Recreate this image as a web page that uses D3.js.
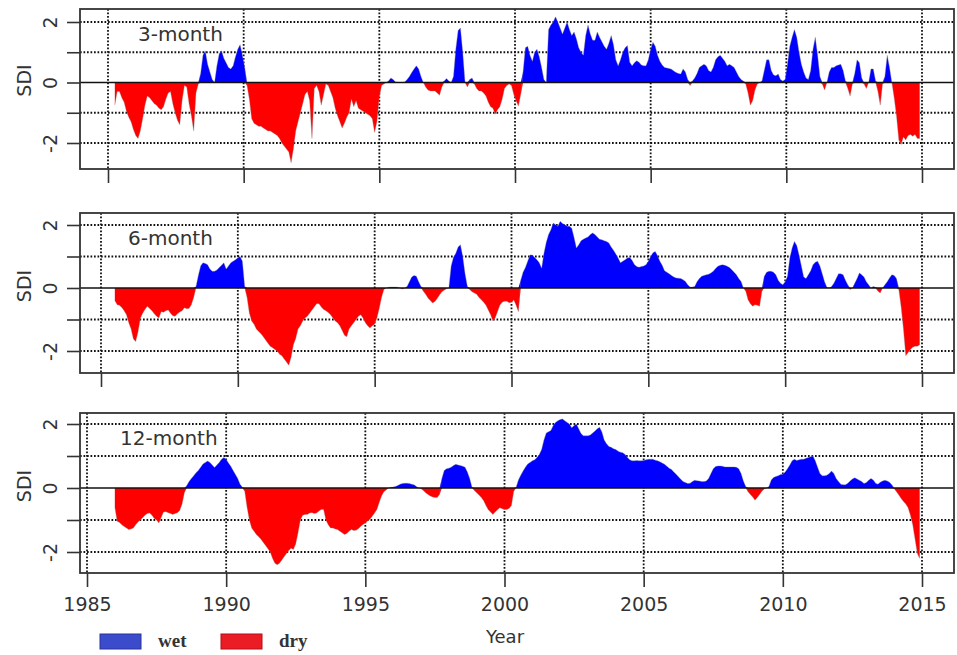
<!DOCTYPE html>
<html>
<head>
<meta charset="utf-8">
<script src="https://cdn.jsdelivr.net/npm/d3@7"></script>
<style>
  body { margin: 0; background: #fff; }
  svg text { font-family: "DejaVu Sans", Verdana, sans-serif; fill: #333; }
</style>
</head>
<body>
<svg id="chart" width="957" height="655"></svg>
<script>
// Monthly SDI series, January 1986 to December 2014 (one row per year)
const startYear = 1986;
const xTickYears = [1985, 1990, 1995, 2000, 2005, 2010, 2015];
const yTickValues = [-2, -1, 0, 1, 2];
const yLabelValues = [-2, 0, 2];
const panelNames = ["3-month", "6-month", "12-month"];
const legendItems = ["wet", "dry"];

const sdi3 = [
  -0.75, -0.3, -0.3, -0.5, -0.65, -0.95, -1.15, -1.3, -1.55, -1.75, -1.85, -1.6,   // 1986
  -1.2, -0.75, -0.45, -0.5, -0.6, -0.7, -0.75, -0.85, -0.9, -0.8, -0.55, -0.35,    // 1987
  -0.3, -0.7, -1.0, -1.25, -1.4, -0.6, -0.1, -0.15, -0.7, -1.1, -1.6, -0.35,       // 1988
  -0.05, 0.3, 0.9, 1.05, 0.6, 0.35, 0.1, 0.0, 0.55, 0.95, 1.05, 0.8,               // 1989
  0.65, 0.5, 0.45, 0.55, 0.85, 1.1, 1.25, 0.9, 0.5, -0.1, -0.55, -1.2,             // 1990
  -1.35, -1.4, -1.45, -1.45, -1.5, -1.55, -1.6, -1.6, -1.65, -1.7, -1.75, -1.85,   // 1991
  -2.0, -2.1, -2.2, -2.3, -2.65, -2.2, -1.6, -1.3, -1.0, -0.7, -0.4, -0.3,         // 1992
  -0.6, -1.85, -0.2, -0.1, -0.3, -0.75, -0.4, -0.05, -0.1, -0.3, -0.5, -0.85,      // 1993
  -1.1, -1.3, -1.5, -1.35, -1.15, -1.0, -0.55, -0.8, -0.6, -0.85, -0.9, -0.95,     // 1994
  -1.0, -1.05, -1.1, -1.2, -1.65, -1.3, -0.5, -0.1, -0.05, 0.0, 0.05, 0.15,        // 1995
  0.1, 0.02, 0.0, 0.0, 0.0, 0.02, 0.1, 0.2, 0.33, 0.45, 0.55, 0.45,                // 1996
  0.2, 0.0, -0.15, -0.25, -0.28, -0.28, -0.28, -0.35, -0.42, -0.15, 0.05, 0.13,    // 1997
  0.05, 0.0, 0.2, 1.1, 1.72, 1.8, 1.0, 0.0, -0.15, 0.1, 0.15, -0.05,               // 1998
  -0.2, -0.28, -0.28, -0.35, -0.45, -0.65, -0.8, -0.85, -1.05, -0.9, -0.8, -0.55,  // 1999
  -0.2, -0.1, -0.05, -0.1, -0.4, -0.6, -0.78, -0.4, 0.35, 1.15, 1.2, 0.9,          // 2000
  0.7, 1.0, 1.1, 0.85, 0.5, 0.1, 0.0, 1.75, 1.9, 2.0, 2.17, 2.0,                   // 2001
  1.8, 1.6, 1.8, 2.0, 1.75, 1.55, 1.67, 1.45, 1.15, 1.0, 0.9, 1.55,                // 2002
  1.9, 1.6, 1.4, 1.4, 1.67, 1.5, 1.35, 1.2, 1.1, 1.3, 1.55, 1.25,                  // 2003
  0.75, 0.55, 0.75, 1.0, 1.15, 1.22, 0.67, 0.55, 0.65, 0.72, 0.67, 0.58,           // 2004
  0.55, 0.55, 0.75, 1.1, 1.33, 1.2, 0.9, 0.7, 0.58, 0.5, 0.48, 0.46,               // 2005
  0.44, 0.38, 0.33, 0.3, 0.28, 0.45, 0.35, 0.1, -0.1, 0.05, 0.15, 0.3,             // 2006
  0.5, 0.55, 0.6, 0.55, 0.4, 0.35, 0.5, 0.75, 0.85, 0.9, 0.8, 0.7,                 // 2007
  0.55, 0.6, 0.55, 0.5, 0.35, 0.2, 0.1, 0.05, -0.05, -0.35, -0.75, -0.6,           // 2008
  -0.25, -0.05, 0.0, 0.05, 0.4, 0.75, 0.75, 0.4, 0.25, 0.22, 0.28, 0.1,            // 2009
  0.05, 0.1, 0.6, 1.2, 1.5, 1.75, 1.5, 1.0, 0.6, 0.35, 0.15, 0.1,                  // 2010
  0.4, 1.1, 1.5, 0.9, 0.2, -0.05, -0.25, 0.0, 0.35, 0.5, 0.5, 0.55,                // 2011
  0.58, 0.6, 0.4, 0.05, -0.2, -0.45, -0.05, 0.3, 0.75, 0.65, 0.15, -0.05,          // 2012
  -0.2, 0.0, 0.45, 0.45, 0.05, -0.3, -0.75, -0.05, 0.2, 0.9, 0.5, 0.0,             // 2013
  -0.5, -1.1, -1.9, -2.05, -1.8, -1.9, -1.75, -1.72, -1.78, -1.72, -1.85, -1.85    // 2014
];

const sdi6 = [
  -0.4, -0.53, -0.55, -0.62, -0.72, -0.85, -1.1, -1.3, -1.62, -1.7, -1.4, -0.97,   // 1986
  -0.8, -0.68, -0.58, -0.65, -0.72, -0.82, -0.9, -0.95, -0.75, -0.77, -0.72, -0.7, // 1987
  -0.8, -0.88, -0.9, -0.82, -0.76, -0.72, -0.63, -0.66, -0.65, -0.53, -0.3, 0.05,  // 1988
  0.4, 0.7, 0.8, 0.78, 0.74, 0.6, 0.53, 0.53, 0.57, 0.65, 0.72, 0.8,               // 1989
  0.6, 0.7, 0.8, 0.85, 0.9, 0.95, 1.0, 0.85, 0.05, -0.3, -0.8, -1.05,              // 1990
  -1.15, -1.3, -1.38, -1.45, -1.55, -1.65, -1.75, -1.85, -1.9, -1.95, -2.0, -2.1,  // 1991
  -2.15, -2.25, -2.35, -2.45, -2.2, -1.8, -1.6, -1.3, -1.2, -1.05, -0.95, -0.9,    // 1992
  -0.8, -0.7, -0.6, -0.5, -0.5, -0.6, -0.68, -0.72, -0.78, -0.85, -0.95, -1.05,    // 1993
  -1.1, -1.2, -1.35, -1.5, -1.55, -1.3, -1.2, -1.1, -1.0, -0.9, -0.85, -0.95,      // 1994
  -1.1, -1.2, -1.27, -1.2, -1.15, -0.95, -0.65, -0.3, -0.05, 0.0, 0.02, 0.03,      // 1995
  0.03, 0.03, 0.02, 0.0, -0.03, 0.0, 0.05, 0.2, 0.35, 0.4, 0.37, 0.2,              // 1996
  0.05, -0.1, -0.2, -0.32, -0.4, -0.48, -0.43, -0.33, -0.22, -0.12, -0.07, -0.02,  // 1997
  0.0, 0.7, 0.98, 1.1, 1.3, 1.37, 1.0, 0.45, 0.05, -0.05, -0.12, -0.16,            // 1998
  -0.2, -0.3, -0.37, -0.45, -0.55, -0.7, -0.85, -1.05, -0.95, -0.75, -0.55, -0.45, // 1999
  -0.42, -0.42, -0.47, -0.45, -0.38, -0.55, -0.75, 0.25, 0.5, 0.65, 0.85, 1.05,    // 2000
  1.05, 0.97, 0.9, 0.8, 0.63, 1.1, 1.45, 1.7, 1.85, 2.06, 2.01, 1.96,              // 2001
  2.12, 2.05, 2.01, 1.96, 1.96, 1.9, 1.6, 1.27, 1.37, 1.5, 1.55, 1.59,             // 2002
  1.62, 1.7, 1.75, 1.7, 1.62, 1.55, 1.53, 1.5, 1.48, 1.43, 1.3, 1.2,               // 2003
  1.08, 0.95, 0.8, 0.85, 0.9, 0.95, 0.97, 0.88, 0.75, 0.68, 0.66, 0.68,            // 2004
  0.7, 0.74, 0.85, 1.0, 1.12, 1.16, 1.02, 0.85, 0.72, 0.55, 0.5, 0.45,             // 2005
  0.4, 0.35, 0.32, 0.31, 0.3, 0.26, 0.21, 0.1, 0.03, 0.03, 0.05, 0.2,              // 2006
  0.3, 0.37, 0.4, 0.42, 0.44, 0.48, 0.53, 0.62, 0.69, 0.72, 0.74, 0.72,            // 2007
  0.69, 0.65, 0.58, 0.5, 0.42, 0.3, 0.21, 0.0, -0.1, -0.37, -0.5, -0.58,           // 2008
  -0.53, -0.55, -0.58, -0.1, 0.37, 0.5, 0.53, 0.53, 0.5, 0.42, 0.25, 0.15,         // 2009
  0.1, 0.2, 0.37, 0.95, 1.27, 1.48, 1.35, 1.05, 0.7, 0.35, 0.3, 0.42,              // 2010
  0.55, 0.74, 0.82, 0.85, 0.7, 0.45, 0.2, 0.02, 0.0, 0.05, 0.15, 0.3,              // 2011
  0.45, 0.45, 0.42, 0.25, 0.1, -0.05, 0.0, 0.15, 0.3, 0.48, 0.42, 0.35,            // 2012
  0.2, 0.1, 0.0, 0.05, 0.02, -0.1, -0.16, 0.0, 0.1, 0.2, 0.32, 0.42,               // 2013
  0.4, 0.3, -0.05, -0.6, -1.3, -2.15, -2.05, -1.95, -1.88, -1.85, -1.85, -1.8      // 2014
];

const sdi12 = [
  -0.6, -1.04, -1.08, -1.15, -1.2, -1.25, -1.3, -1.28, -1.25, -1.15, -1.06, -1.0,  // 1986
  -0.93, -0.85, -0.8, -0.78, -0.85, -0.95, -1.0, -1.09, -0.92, -0.75, -0.74, -0.77, // 1987
  -0.8, -0.83, -0.8, -0.77, -0.7, -0.5, -0.15, 0.08, 0.2, 0.3, 0.38, 0.48,         // 1988
  0.55, 0.65, 0.75, 0.8, 0.84, 0.8, 0.72, 0.64, 0.72, 0.8, 0.9, 0.95,              // 1989
  0.9, 0.78, 0.68, 0.55, 0.42, 0.3, 0.12, 0.02, -0.1, -0.6, -1.0, -1.25,           // 1990
  -1.35, -1.45, -1.52, -1.6, -1.7, -1.8, -1.9, -2.0, -2.2, -2.35, -2.4, -2.35,     // 1991
  -2.25, -2.15, -2.05, -1.95, -1.88, -1.92, -1.75, -1.4, -1.0, -0.85, -0.83, -0.83, // 1992
  -0.78, -0.77, -0.8, -0.78, -0.72, -0.67, -0.67, -1.0, -1.15, -1.25, -1.25, -1.28, // 1993
  -1.3, -1.35, -1.4, -1.45, -1.42, -1.35, -1.3, -1.33, -1.32, -1.27, -1.2, -1.14,  // 1994
  -1.09, -1.03, -0.98, -0.88, -0.78, -0.67, -0.45, -0.25, -0.12, -0.06, 0.0, 0.02, // 1995
  0.03, 0.05, 0.08, 0.12, 0.14, 0.15, 0.15, 0.14, 0.12, 0.1, 0.05, 0.0,            // 1996
  -0.02, -0.08, -0.15, -0.2, -0.25, -0.28, -0.3, -0.3, -0.2, 0.3, 0.55, 0.6,       // 1997
  0.62, 0.65, 0.7, 0.74, 0.72, 0.7, 0.68, 0.65, 0.5, 0.3, 0.02, -0.08,             // 1998
  -0.15, -0.22, -0.3, -0.4, -0.55, -0.68, -0.75, -0.83, -0.75, -0.68, -0.62, -0.65, // 1999
  -0.67, -0.67, -0.64, -0.55, -0.1, 0.02, 0.25, 0.4, 0.53, 0.65, 0.75, 0.8,        // 2000
  0.85, 0.88, 0.95, 1.05, 1.2, 1.5, 1.72, 1.76, 1.8, 1.95, 2.05, 2.1,              // 2001
  2.14, 2.16, 2.1, 2.05, 2.0, 1.88, 1.95, 2.0, 1.85, 1.7, 1.63, 1.63,              // 2002
  1.63, 1.66, 1.72, 1.78, 1.85, 1.9, 1.75, 1.5, 1.38, 1.3, 1.27, 1.23,             // 2003
  1.2, 1.15, 1.12, 1.1, 1.05, 0.95, 0.88, 0.85, 0.85, 0.86, 0.85, 0.85,            // 2004
  0.86, 0.88, 0.9, 0.9, 0.9, 0.87, 0.85, 0.82, 0.78, 0.74, 0.68, 0.62,             // 2005
  0.58, 0.5, 0.43, 0.35, 0.27, 0.2, 0.17, 0.14, 0.15, 0.2, 0.24, 0.23,             // 2006
  0.22, 0.2, 0.2, 0.22, 0.3, 0.45, 0.6, 0.67, 0.69, 0.69, 0.68, 0.66,              // 2007
  0.66, 0.66, 0.66, 0.66, 0.65, 0.6, 0.45, 0.22, 0.05, -0.12, -0.2, -0.28,         // 2008
  -0.38, -0.3, -0.2, -0.1, -0.03, 0.0, 0.05, 0.25, 0.33, 0.36, 0.38, 0.42,         // 2009
  0.43, 0.5, 0.6, 0.72, 0.85, 0.9, 0.86, 0.88, 0.9, 0.9, 0.93, 0.95,               // 2010
  0.98, 1.0, 0.85, 0.65, 0.45, 0.38, 0.38, 0.4, 0.45, 0.53, 0.45, 0.3,             // 2011
  0.2, 0.12, 0.1, 0.1, 0.15, 0.22, 0.28, 0.32, 0.28, 0.24, 0.2, 0.14,              // 2012
  0.17, 0.24, 0.3, 0.25, 0.15, 0.12, 0.18, 0.22, 0.24, 0.22, 0.18, 0.1,            // 2013
  -0.02, -0.12, -0.22, -0.33, -0.42, -0.5, -0.62, -0.85, -1.15, -1.6, -2.05, -2.2  // 2014
];

// ---- layout ----
const frame = { left: 80, right: 954 };
const panels = [
  { name: panelNames[0], values: sdi3,  top: 9,   bottom: 169, yTop: 22,  yBot: 143, axisStart: 108, labelX: 138, showYears: false },
  { name: panelNames[1], values: sdi6,  top: 213, bottom: 373, yTop: 225, yBot: 351, axisStart: 101, labelX: 128, showYears: false },
  { name: panelNames[2], values: sdi12, top: 413, bottom: 573, yTop: 424, yBot: 552, axisStart: 87,  labelX: 120, showYears: true }
];
const wetColor = "#0000ff";
const dryColor = "#ff0000";
const gridColor = "#111";
const gridWidth = 1.8;
const gridDash = "1.7,1.8";

const svg = d3.select("#chart");

// time position of the monthly values
const xData = d3.scaleLinear().domain([1985, 2015]).range([87, 922]);

panels.forEach(p => {
  const g = svg.append("g");
  const y = d3.scaleLinear().domain([-2, 2]).range([p.yBot, p.yTop]);
  const xAxisScale = d3.scaleLinear().domain([1985, 2015]).range([p.axisStart, 922]);
  const series = p.values.map((v, i) => ({ t: startYear + i / 12, v }));

  // dotted grid
  g.selectAll("line.hgrid").data(yTickValues.filter(d => d !== 0)).join("line")
    .attr("x1", frame.left).attr("x2", frame.right)
    .attr("y1", d => y(d)).attr("y2", d => y(d))
    .attr("stroke", gridColor).attr("stroke-width", gridWidth).attr("stroke-dasharray", gridDash);
  g.selectAll("line.vgrid").data(xTickYears).join("line")
    .attr("x1", d => xAxisScale(d)).attr("x2", d => xAxisScale(d))
    .attr("y1", p.top).attr("y2", p.bottom)
    .attr("stroke", gridColor).attr("stroke-width", gridWidth).attr("stroke-dasharray", gridDash);

  // wet and dry fills
  const wet = d3.area().x(d => xData(d.t)).y0(y(0)).y1(d => y(Math.max(d.v, 0)));
  const dry = d3.area().x(d => xData(d.t)).y0(y(0)).y1(d => y(Math.min(d.v, 0)));
  g.append("path").datum(series).attr("d", wet).attr("fill", wetColor);
  g.append("path").datum(series).attr("d", dry).attr("fill", dryColor);

  // soft grey edge of the series
  g.append("path").datum(series)
    .attr("d", d3.line().x(d => xData(d.t)).y(d => y(d.v)))
    .attr("fill", "none").attr("stroke", "#8c8c8c").attr("stroke-width", 0.7).attr("opacity", 0.5);

  // zero line
  g.append("line").attr("x1", frame.left).attr("x2", frame.right)
    .attr("y1", y(0)).attr("y2", y(0)).attr("stroke", "#111").attr("stroke-width", 1.6);

  // box
  g.append("rect").attr("x", frame.left).attr("y", p.top)
    .attr("width", frame.right - frame.left).attr("height", p.bottom - p.top)
    .attr("fill", "none").attr("stroke", "#333").attr("stroke-width", 1.8);

  // y axis
  const ya = g.append("g").attr("transform", `translate(${frame.left},0)`)
    .call(d3.axisLeft(y).tickValues(yTickValues).tickSize(13)
      .tickFormat(d => yLabelValues.includes(d) ? String(d) : ""));
  ya.select(".domain").remove();
  ya.attr("font-family", null).attr("font-size", null);
  ya.selectAll(".tick line").attr("stroke", "#333").attr("stroke-width", 1.6);
  ya.selectAll(".tick text")
    .attr("x", null).attr("dy", null)
    .attr("transform", "translate(-23,0) rotate(-90)")
    .attr("text-anchor", "middle").style("font-size", "19px").attr("fill", "#333");

  // x axis
  const xa = g.append("g").attr("transform", `translate(0,${p.bottom})`)
    .call(d3.axisBottom(xAxisScale).tickValues(xTickYears).tickSize(14)
      .tickFormat(d => p.showYears ? String(d) : ""));
  xa.select(".domain").remove();
  xa.attr("font-family", null).attr("font-size", null);
  xa.selectAll(".tick line").attr("stroke", "#333").attr("stroke-width", 1.6);
  xa.selectAll(".tick text").attr("y", 25).style("font-size", "19px").attr("fill", "#333");

  // axis title and panel name
  g.append("text")
    .attr("transform", `translate(31,${y(0) - 2}) rotate(-90)`)
    .attr("text-anchor", "middle").style("font-size", "19px").text("SDI");
  g.append("text").attr("x", p.labelX).attr("y", p.top + 32)
    .style("font-size", "20px").text(p.name);
});

// x axis title
svg.append("text").attr("x", 505).attr("y", 643).attr("text-anchor", "middle")
  .style("font-size", "18px").text("Year");

// legend
const legendColors = ["#3a4ccc", "#ec1c24"];
const legendStroke = ["#2a3399", "#b01018"];
const legendX = [100, 221];
legendItems.forEach((name, i) => {
  svg.append("rect").attr("x", legendX[i]).attr("y", 634).attr("width", 41).attr("height", 15)
    .attr("fill", legendColors[i]).attr("stroke", legendStroke[i]).attr("stroke-width", 1);
  svg.append("text").attr("x", legendX[i] + 58).attr("y", 647)
    .style("font-family", "'Liberation Serif', 'Times New Roman', serif")
    .style("font-weight", "bold").style("font-size", "19px").text(name);
});
</script>
</body>
</html>
